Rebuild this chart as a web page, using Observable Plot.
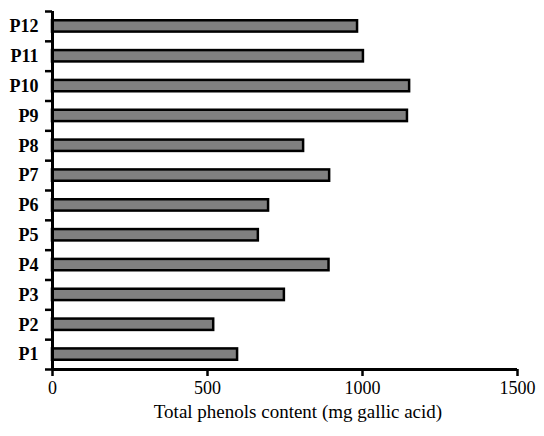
<!DOCTYPE html>
<html>
<head>
<meta charset="utf-8">
<script src="https://cdn.jsdelivr.net/npm/d3@7"></script>
<script src="https://cdn.jsdelivr.net/npm/@observablehq/plot@0.6"></script>
<style>
  html, body { margin: 0; padding: 0; background: #fff; }
</style>
</head>
<body>
<div id="chart"></div>
<script>
const samples = ["P1","P2","P3","P4","P5","P6","P7","P8","P9","P10","P11","P12"];
const phenols = [597, 520, 748, 892, 664, 697, 894, 810, 1145, 1152, 1003, 984];
const xTicks = [0, 500, 1000, 1500];
const xLabel = "Total phenols content (mg gallic acid)";

const rows = samples.map((s, k) => ({sample: s, value: phenols[k], pos: k + 1}));
const half = 0.19;
const boundaries = d3.range(0, samples.length + 1).map(k => k + 0.5);

const W = 544, H = 436, mL = 52, mR = 27, mT = 11, mB = 67;
// pixel lengths of tick marks converted to data units of each scale
const pxPerX = (W - mL - mR) / 1500;
const pxPerY = (H - mT - mB) / samples.length;
const yTickLen = 7 / pxPerX;
const xTickLen = 7 / pxPerY;

const chart = Plot.plot({
  width: W,
  height: H,
  marginLeft: mL,
  marginRight: mR,
  marginTop: mT,
  marginBottom: mB,
  style: {fontFamily: "'Liberation Serif', 'Times New Roman', serif", color: "#000", background: "#fff"},
  x: {domain: [0, 1500]},
  y: {domain: [0.5, samples.length + 0.5]},
  marks: [
    Plot.rect(rows, {
      x1: 0, x2: "value",
      y1: d => d.pos - half, y2: d => d.pos + half,
      fill: "#808080", stroke: "#000", strokeWidth: 2.5
    }),
    // y boundary ticks
    Plot.ruleY(boundaries, {y: d => d, x1: 0, x2: -yTickLen, stroke: "#000", strokeWidth: 2.5}),
    // x ticks
    Plot.ruleX(xTicks, {x: d => d, y1: 0.5, y2: 0.5 - xTickLen, stroke: "#000", strokeWidth: 2.5}),
    Plot.ruleY([0.5], {x1: 0, x2: 1500, stroke: "#000", strokeWidth: 3}),
    Plot.ruleX([0], {y1: 0.5, y2: samples.length + 0.5, stroke: "#000", strokeWidth: 3}),
    Plot.axisY({
      ticks: d3.range(1, samples.length + 1),
      tickSize: 0, tickPadding: 14,
      tickFormat: v => samples[v - 1],
      fontSize: 18, fontWeight: "bold", label: null
    }),
    Plot.axisX({
      ticks: xTicks, tickSize: 0, tickPadding: 12,
      tickFormat: d => String(d),
      fontSize: 18,
      label: null
    }),
    Plot.text([xLabel], {
      frameAnchor: "bottom", dy: 48, dx: 13, text: d => d,
      fontSize: 19, fill: "#000"
    })
  ]
});
document.getElementById("chart").append(chart);
</script>
</body>
</html>
